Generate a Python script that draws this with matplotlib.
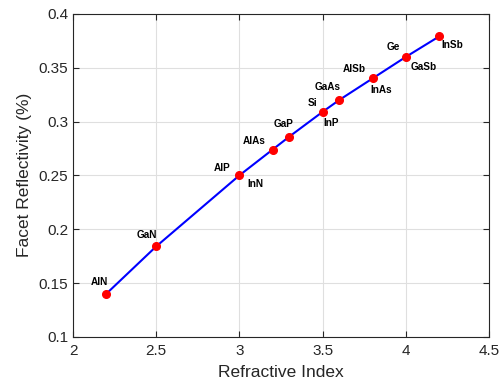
import matplotlib.pyplot as plt

plt.rcParams['font.family'] = ['Liberation Sans', 'DejaVu Sans']

#### DATA #####
index = [2.2, 2.5, 3.0, 3.2, 3.3, 3.5, 3.6, 3.8, 4.0, 4.2]
reflect = [0.140, 0.184, 0.250, 0.274, 0.286, 0.309, 0.320, 0.340, 0.360, 0.379]

materials = ['AlN', 'GaN', 'AlP', 'InN', 'AlAs', 'GaP', 'Si', 'InP',
             'GaAs', 'AlSb', 'InAs', 'Ge', 'GaSb', 'InSb']
mat_index = [2.2, 2.5, 3.0, 3.0, 3.2, 3.3, 3.5, 3.5, 3.6, 3.8, 3.8, 4.0, 4.0, 4.2]
# label offsets in pixels from the point
offsets = [(-7, 12), (-9, 11), (-17, 7), (16, -9), (-18, 9), (-6, 13), (-10, 9),
           (9, -11), (-12, 13), (-18, 9), (9, -12), (-12, 10), (18, -10), (13, -9)]

##### Figure #####
fig = plt.figure(figsize=(5.0, 3.85), dpi=100)
ax = fig.add_axes([0.146, 0.125, 0.832, 0.839])

ax.plot(index, reflect, color='#0000ff', linewidth=1.5, zorder=2)
ax.plot(index, reflect, linestyle='None', marker='o', markersize=5.5,
        color='#ff0000', zorder=3)

for name, n, off in zip(materials, mat_index, offsets):
    r = reflect[index.index(n)]
    ax.annotate(name, xy=(n, r), xytext=off, textcoords='offset pixels',
                ha='center', va='center', fontsize=7.2, fontweight='bold',
                color='#000000')

ax.set_xlim([2.0, 4.5])
ax.set_ylim([0.1, 0.4])
ax.set_xticks([2, 2.5, 3, 3.5, 4, 4.5])
ax.set_xticklabels(['2', '2.5', '3', '3.5', '4', '4.5'])
ax.set_yticks([0.1, 0.15, 0.2, 0.25, 0.3, 0.35, 0.4])
ax.set_yticklabels(['0.1', '0.15', '0.2', '0.25', '0.3', '0.35', '0.4'])

ax.grid(True, color='#dfdfdf', linewidth=0.8)
ax.set_axisbelow(True)
for s in ax.spines.values():
    s.set_color('#262626')
    s.set_linewidth(0.8)
ax.tick_params(direction='in', top=True, right=True, length=4,
               colors='#262626', labelsize=11, width=0.8)
ax.tick_params(axis='x', pad=5)
ax.set_xlabel('Refractive Index', fontsize=12.5, color='#262626', labelpad=5)
ax.set_ylabel('Facet Reflectivity (%)', fontsize=12.5, color='#262626', labelpad=5)

fig.savefig('out.png', dpi=100)
